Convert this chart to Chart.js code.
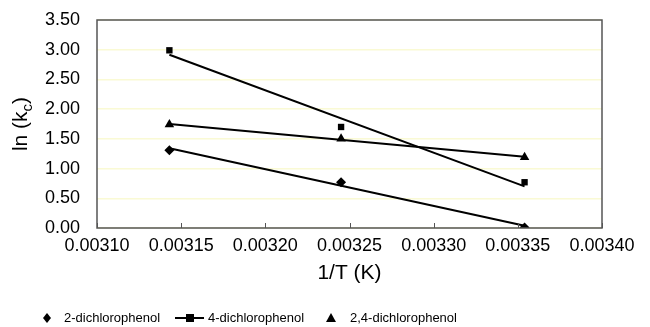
<!DOCTYPE html>
<html>
<head>
<meta charset="utf-8">
<script src="https://cdn.jsdelivr.net/npm/chart.js@4.4.1/dist/chart.umd.min.js"></script>
<style>
  body { margin: 0; background: #fff; }
  #wrap { width: 650px; height: 327px; }
</style>
</head>
<body>
<div id="wrap"><canvas id="myChart"></canvas></div>
<script>
// data
const invT = [0.003143, 0.003245, 0.003354];
const lnKc2 = [1.31, 0.77, 0.01];
const lnKc4 = [2.99, 1.70, 0.77];
const lnKc24 = [1.74, 1.50, 1.19];
const seriesNames = ['2-dichlorophenol', '4-dichlorophenol', '2,4-dichlorophenol'];
const xTicks = [0.00310, 0.00315, 0.00320, 0.00325, 0.00330, 0.00335, 0.00340];
const yTicks = [0, 0.5, 1, 1.5, 2, 2.5, 3, 3.5];

const FONT = "'Liberation Sans', Arial, sans-serif";

// linear trendline (least squares) like the spreadsheet did
function trend(xs, ys) {
  let n = xs.length, mx = 0, my = 0;
  for (let i = 0; i < n; i++) { mx += xs[i]; my += ys[i]; }
  mx /= n; my /= n;
  let sxy = 0, sxx = 0;
  for (let i = 0; i < n; i++) {
    sxy += (xs[i] - mx) * (ys[i] - my);
    sxx += (xs[i] - mx) * (xs[i] - mx);
  }
  let b = sxy / sxx, a = my - b * mx;
  let x0 = xs[0], x1 = xs[n - 1];
  return [{ x: x0, y: a + b * x0 }, { x: x1, y: a + b * x1 }];
}

function pts(ys) {
  return ys.map((y, i) => ({ x: invT[i], y: y }));
}

function markerSet(label, ys, style, r) {
  return {
    label: label,
    data: pts(ys),
    showLine: false,
    pointStyle: style,
    pointRadius: r,
    pointBackgroundColor: '#000',
    pointBorderColor: '#000',
    borderWidth: 0
  };
}

function trendSet(ys) {
  return {
    data: trend(invT, ys),
    showLine: true,
    borderColor: '#000',
    borderWidth: 2,
    pointRadius: 0
  };
}

// frame, inner x ticks, axis titles and legend
const extras = {
  id: 'extras',
  afterDatasetsDraw(chart) {
    const c = chart.ctx;
    const a = chart.chartArea;
    const xs = chart.scales.x;
    c.save();
    c.strokeStyle = '#555';
    c.lineWidth = 1.5;
    c.strokeRect(a.left, a.top, a.right - a.left, a.bottom - a.top);
    c.lineWidth = 1;
    xTicks.forEach(t => {
      let px = Math.round(xs.getPixelForValue(t)) + 0.5;
      c.beginPath();
      c.moveTo(px, a.bottom);
      c.lineTo(px, a.bottom - 5);
      c.stroke();
    });
    c.restore();
  },
  afterDraw(chart) {
    const c = chart.ctx;
    const a = chart.chartArea;
    c.save();
    c.fillStyle = '#000';

    // x title
    c.font = '21px ' + FONT;
    c.textAlign = 'center';
    c.textBaseline = 'middle';
    c.fillText('1/T (K)', (a.left + a.right) / 2, 273);

    // y title with subscript
    c.translate(20, (a.top + a.bottom) / 2);
    c.rotate(-Math.PI / 2);
    c.textAlign = 'left';
    c.textBaseline = 'alphabetic';
    let p1 = 'ln (k', p3 = ')';
    c.font = '21px ' + FONT;
    let w1 = c.measureText(p1).width;
    let w3 = c.measureText(p3).width;
    c.font = '15px ' + FONT;
    let w2 = c.measureText('c').width;
    let total = w1 + w2 + w3;
    let sx = -total / 2, base = 7;
    c.font = '21px ' + FONT;
    c.fillText(p1, sx, base);
    c.font = '15px ' + FONT;
    c.fillText('c', sx + w1, base + 5);
    c.font = '21px ' + FONT;
    c.fillText(p3, sx + w1 + w2, base);
    c.restore();

    // legend
    c.save();
    c.fillStyle = '#000';
    c.strokeStyle = '#000';
    const ly = 318;
    // diamond
    c.beginPath();
    c.moveTo(47, ly - 5); c.lineTo(51, ly); c.lineTo(47, ly + 5); c.lineTo(43, ly);
    c.closePath(); c.fill();
    // line + square
    c.lineWidth = 2;
    c.beginPath(); c.moveTo(175, ly); c.lineTo(204, ly); c.stroke();
    c.fillRect(186, ly - 4, 8, 8);
    // triangle
    c.beginPath();
    c.moveTo(331, ly - 5); c.lineTo(336, ly + 4); c.lineTo(326, ly + 4);
    c.closePath(); c.fill();
    c.font = '13px ' + FONT;
    c.textBaseline = 'middle';
    c.textAlign = 'left';
    c.fillText(seriesNames[0], 64, ly);
    c.fillText(seriesNames[1], 208, ly);
    c.fillText(seriesNames[2], 350, ly);
    c.restore();
  }
};

const ctx = document.getElementById('myChart');

new Chart(ctx, {
  type: 'scatter',
  data: {
    datasets: [
      trendSet(lnKc2),
      trendSet(lnKc4),
      trendSet(lnKc24),
      markerSet(seriesNames[0], lnKc2, 'rectRot', 5),
      markerSet(seriesNames[1], lnKc4, 'rect', 4.5),
      markerSet(seriesNames[2], lnKc24, 'triangle', 5.5)
    ]
  },
  options: {
    responsive: true,
    maintainAspectRatio: false,
    animation: false,
    layout: { padding: { top: 20, right: 48, left: 0, bottom: 0 } },
    plugins: {
      legend: { display: false },
      tooltip: { enabled: false }
    },
    scales: {
      x: {
        type: 'linear',
        min: 0.00310,
        max: 0.00340,
        afterBuildTicks: s => { s.ticks = xTicks.map(v => ({ value: v })); },
        afterFit: s => { s.height = 99; s.paddingLeft = 0; s.paddingRight = 0; },
        grid: { display: false, drawTicks: false },
        border: { display: false },
        ticks: {
          padding: 7,
          color: '#000',
          font: { family: FONT, size: 18 },
          callback: v => v.toFixed(5)
        }
      },
      y: {
        min: 0,
        max: 3.5,
        afterBuildTicks: s => { s.ticks = yTicks.map(v => ({ value: v })); },
        afterFit: s => { s.width = 97; s.paddingTop = 0; s.paddingBottom = 0; },
        grid: { color: 'rgb(250,250,212)', lineWidth: 1.5, drawTicks: false },
        border: { display: false },
        ticks: {
          padding: 17,
          color: '#000',
          font: { family: FONT, size: 18 },
          callback: v => v.toFixed(2)
        }
      }
    }
  },
  plugins: [extras]
});
</script>
</body>
</html>
